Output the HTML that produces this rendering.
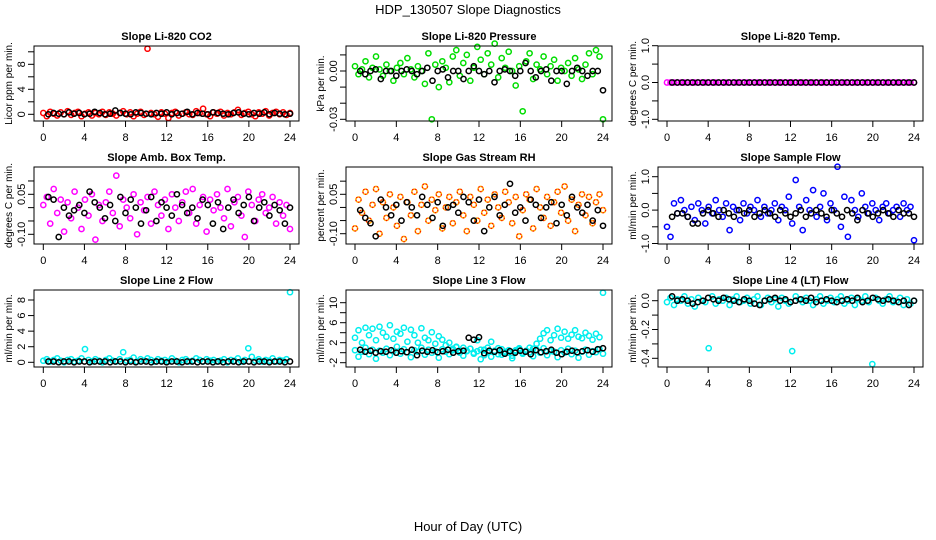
<!DOCTYPE html>
<html><head><meta charset="utf-8">
<style>
html,body{margin:0;padding:0;background:#fff;}
svg{display:block;font-family:"Liberation Sans",sans-serif;}
</style></head>
<body>
<svg id="chart" width="936" height="540" viewBox="0 0 936 540" xmlns="http://www.w3.org/2000/svg">
<text x="468" y="14" text-anchor="middle" font-size="13">HDP_130507  Slope Diagnostics</text>
<text x="468" y="531" text-anchor="middle" font-size="13">Hour of Day (UTC)</text>
</svg>
<script>
const xTicks = [0,4,8,12,16,20,24];
const titles = ["Slope Li-820 CO2","Slope Li-820 Pressure","Slope Li-820 Temp.","Slope Amb. Box Temp.","Slope Gas Stream RH","Slope Sample Flow","Slope Line 2 Flow","Slope Line 3 Flow","Slope Line 4 (LT) Flow"];
const yTitles = ["Licor ppm per min.","kPa per min.","degrees C per min.","degrees C per min.","percent per min.","ml/min per min.","ml/min per min.","ml/min per min.","ml/min per min."];

const co2 = [0.2,-0.3,0.4,0.1,-0.2,0.3,0,0.5,-0.1,0.2,0.4,-0.3,0.1,0.3,-0.2,0.2,0,0.4,-0.1,0.3,0.1,-0.2,0.2,0.5,0,0.3,-0.3,0.1,0.4,-0.1,10.5,0.2,0,-0.4,0.3,0.1,-0.6,0.2,0.4,-0.2,0.1,0.3,0,-0.1,0.5,0.2,0.9,0,-0.3,0.3,0.1,0.4,-0.2,0.2,0,0.3,0.7,-0.1,0.2,0.4,0,-0.3,0.3,0.1,0.5,-0.2,0.2,0.4,0,0.3,-0.1,0.2];
const co2Black = [0,0.2,0.1,0,0.3,0.1,0.2,0,0.1,0.4,0.2,0,0.1,0.6,0.2,0.1,0,0.3,0.2,0.1,0,0.2,0.1,0.3,0,0.2,0.1,0.4,0,0.2,0.1,0,0.3,0.2,0.1,0,0.2,0.3,0.1,0,0.2,0.1,0.3,0,0.2,0.1,0,0.1];
const pressure = [0.003,-0.002,0.001,0.006,-0.004,0.002,0.009,0.001,-0.003,0.004,0.000,-0.006,0.002,0.005,-0.002,0.008,0.001,-0.004,0.003,0.000,-0.008,0.011,-0.030,0.004,-0.010,0.006,0.002,-0.007,0.009,0.013,-0.003,0.005,0.010,-0.006,0.002,0.015,0.007,-0.002,0.011,0.004,0.017,-0.004,0.008,0.002,0.012,0.000,-0.009,0.003,-0.025,0.006,0.011,-0.005,0.004,0.001,0.009,-0.002,0.003,0.007,-0.006,0.002,0.000,0.005,-0.003,0.008,0.001,-0.005,0.004,0.011,-0.002,0.013,0.009,-0.030];
const pressureBlack = [0.000,-0.002,0.000,0.001,-0.005,0.000,0.000,-0.003,0.000,0.001,0.000,-0.002,0.000,0.002,-0.006,0.000,0.001,-0.004,0.000,0.000,-0.005,0.000,0.003,0.000,-0.002,0.000,-0.007,0.000,0.001,0.000,-0.003,0.000,0.005,0.000,-0.004,0.000,0.001,-0.006,0.000,0.000,-0.008,0.000,0.002,0.000,-0.003,0.000,0.000,-0.012];
const licorTemp = [0,0,0,0,0,0,0,0,0,0,0,0,0,0,0,0,0,0,0,0,0,0,0,0,0,0,0,0,0,0,0,0,0,0,0,0,0,0,0,0,0,0,0,0,0,0,0,0,0,0,0,0,0,0,0,0,0,0,0,0,0,0,0,0,0,0,0,0,0,0,0,0];
const licorTempBlack = [0,0,0,0,0,0,0,0,0,0,0,0,0,0,0,0,0,0,0,0,0,0,0,0,0,0,0,0,0,0,0,0,0,0,0,0,0,0,0,0,0,0,0,0,0,0,0,0];
const boxTemp = [0.01,0.04,-0.06,0.07,-0.02,0.03,-0.09,0.02,-0.04,0.06,0.00,-0.08,0.03,-0.03,0.05,-0.12,0.01,-0.05,0.02,0.06,-0.02,0.12,-0.07,0.03,0.00,-0.04,0.05,-0.10,0.02,-0.01,0.04,-0.06,0.06,0.01,-0.03,0.03,-0.08,0.05,0.00,-0.05,0.02,0.06,-0.02,0.07,-0.06,0.01,0.04,-0.09,0.03,-0.01,0.05,0.00,-0.04,0.07,-0.07,0.02,0.04,-0.03,-0.11,0.06,0.01,-0.05,0.03,0.05,-0.02,0.00,0.04,-0.06,0.02,-0.03,0.01,-0.08];
const boxTempBlack = [0.04,0.03,-0.11,0.00,-0.03,-0.01,0.01,-0.02,0.06,0.02,0.00,-0.04,0.01,-0.05,0.04,-0.02,0.03,0.00,-0.06,-0.01,0.04,-0.05,0.02,0.00,-0.03,0.05,0.01,-0.02,0.00,-0.04,0.03,0.01,-0.06,0.02,-0.08,0.00,0.03,-0.02,0.01,0.04,-0.05,0.00,0.02,-0.03,0.01,-0.01,-0.06,0.00];
const gasRH = [-0.08,0.03,-0.02,0.06,-0.05,0.01,0.07,-0.10,0.02,-0.04,0.05,0.00,-0.07,0.04,-0.12,0.02,-0.03,0.06,-0.09,0.01,0.08,-0.05,0.03,-0.01,0.05,-0.08,0.00,0.04,-0.06,0.02,0.06,-0.03,-0.09,0.04,0.01,-0.05,0.07,-0.02,0.03,-0.07,0.05,0.00,-0.04,0.06,0.02,-0.06,0.04,-0.11,-0.01,0.05,0.03,-0.08,0.07,0.00,-0.04,0.04,-0.07,0.02,0.06,-0.02,0.08,-0.05,0.03,-0.09,0.01,0.05,-0.03,0.04,-0.06,0.02,0.05,-0.01];
const gasRHBlack = [-0.01,-0.04,-0.06,-0.11,0.03,0.00,-0.03,0.01,-0.05,0.02,0.00,-0.03,0.04,0.01,-0.04,0.02,-0.07,0.00,0.01,-0.02,0.04,0.02,-0.05,0.03,-0.09,0.00,0.04,-0.03,0.01,0.09,-0.02,0.00,-0.05,0.03,0.01,-0.04,0.00,0.02,-0.06,0.01,-0.03,0.04,0.00,-0.02,0.01,-0.05,-0.01,-0.07];
const sampleFlow = [-0.5,-0.8,0.2,-0.1,0.3,0.0,-0.2,0.1,-0.3,0.2,0.0,-0.4,0.1,-0.1,0.3,0.0,-0.2,0.2,-0.6,0.1,0.0,-0.3,0.2,-0.1,0.1,0.0,0.3,-0.2,0.1,-0.1,0.0,0.2,-0.3,0.1,0.0,0.4,-0.4,0.9,0.1,-0.6,0.3,0.0,0.6,-0.2,0.1,0.5,-0.3,0.2,0.0,1.3,-0.5,0.4,-0.8,0.3,0.0,-0.2,0.5,0.1,-0.1,0.2,0.0,-0.3,0.1,0.2,-0.1,0.0,0.1,-0.2,0.2,0.0,0.1,-0.9];
const sampleFlowBlack = [-0.2,-0.1,-0.1,-0.2,-0.4,-0.4,-0.1,0.0,-0.1,-0.2,0.0,-0.1,-0.2,0.0,-0.1,0.0,-0.2,-0.1,0.0,-0.1,-0.2,0.0,-0.1,-0.2,-0.1,0.0,-0.2,-0.1,0.0,-0.1,-0.2,0.0,-0.1,-0.2,0.0,-0.1,-0.3,0.0,-0.1,-0.2,-0.1,0.0,-0.1,-0.2,0.0,-0.1,-0.1,-0.2];
const line2 = [0.2,0.4,0.1,0.3,0.5,0.2,0.0,0.3,0.4,0.1,0.2,0.5,1.7,0.3,0.1,0.4,0.2,0.0,0.3,0.5,0.2,0.1,0.4,1.3,0.2,0.3,0.6,0.1,0.4,0.2,0.5,0.3,0.1,0.4,0.2,0.3,0.1,0.5,0.2,0.0,0.3,0.4,0.1,0.2,0.5,0.3,0.1,0.4,0.2,0.3,0.1,0.2,0.4,0.0,0.3,0.2,0.5,0.1,0.3,1.8,0.7,0.2,0.4,0.1,0.3,0.2,0.5,0.1,0.3,0.2,0.4,9.0];
const line2Black = [0.1,0.1,0.0,0.1,0.1,0.0,0.1,0.1,0.0,0.1,0.1,0.1,0.0,0.1,0.1,0.0,0.1,0.0,0.1,0.1,0.0,0.1,0.1,0.0,0.1,0.1,0.0,0.1,0.1,0.0,0.1,0.1,0.0,0.1,0.0,0.1,0.1,0.0,0.1,0.1,0.0,0.1,0.1,0.0,0.1,0.1,0.0,0.1];
const line3High = [3.0,4.5,2.0,5.0,3.5,4.8,2.5,5.2,4.0,3.2,5.5,2.8,4.2,3.8,5.0,2.2,4.6,3.5,2.0,4.9,3.0,2.5,4.1,1.8,3.3,2.6,1.5,2.0,0.8,1.2,0.5,1.0,0.3,0.8,0.0,2.5,0.6,-0.5,1.0,2.2,0.2,-0.3,0.7,0.0,0.5,-0.6,0.3,0.9,0.0,0.4,1.0,0.8,1.8,2.8,3.9,4.5,2.5,3.5,4.8,3.0,4.2,2.8,3.6,4.5,3.2,2.9,4.0,3.4,2.6,3.8,3.1,12.0];
const line3Low = [0.5,-0.8,0.2,1.0,-0.3,0.6,-1.2,0.4,0.0,0.8,-0.5,0.3,1.2,-0.2,0.7,0.1,-0.9,0.5,0.2,1.0,-0.4,0.6,0.0,0.3,-1.0,0.7,0.2,-0.3,0.5,1.1,0.0,-0.6,0.4,0.8,-0.2,0.3,-1.3,0.6,0.1,-0.8,0.4,0.9,-0.4,0.2,0.0,-1.1,0.5,0.7,-0.2,0.3,0.1,-0.7,0.6,0.0,0.9,-0.5,0.3,0.2,-0.9,0.5,0.0,0.8,-0.3,0.4,-1.0,0.2,0.6,-0.4,0.3,0.1,0.7,-0.2];
const line3Black = [0.6,0.2,0.4,0.0,0.3,0.2,0.5,0.0,0.3,0.1,0.6,-0.5,0.4,0.2,0.5,0.1,0.3,0.6,0.0,0.3,0.4,3.0,2.6,3.1,-0.1,0.4,0.2,0.5,-0.2,0.3,0.0,0.4,0.2,-0.3,0.5,0.1,0.3,0.6,0.0,-0.3,0.2,0.4,0.1,0.3,0.5,0.2,0.7,0.9];
const line4 = [-0.01,0.02,-0.03,0.01,0.00,0.03,-0.02,0.01,-0.04,0.02,0.00,-0.01,-0.33,0.03,-0.02,0.01,0.00,0.02,-0.03,0.01,0.03,-0.01,0.00,0.02,-0.02,0.01,0.03,-0.03,0.00,0.02,-0.01,0.01,-0.04,0.02,0.00,-0.02,-0.35,0.03,0.01,-0.01,0.02,0.00,-0.03,0.01,0.03,-0.02,0.00,0.02,-0.01,0.01,0.03,-0.02,0.00,0.02,-0.03,0.01,0.00,0.03,-0.01,-0.44,0.02,0.00,-0.02,0.01,0.03,-0.01,0.00,0.02,-0.03,0.01,-0.02,0.00];
const line4Black = [0.03,0.00,0.01,0.00,-0.02,-0.01,0.00,0.02,0.01,0.00,0.02,0.01,0.00,-0.01,0.01,0.00,-0.02,-0.03,0.00,0.01,0.02,0.00,0.01,-0.01,0.00,0.01,0.00,0.02,-0.01,0.00,0.01,0.00,-0.01,0.00,0.01,0.00,0.02,-0.01,0.00,0.02,0.01,0.00,0.01,0.00,-0.01,0.00,-0.03,0.00];

const yTickVals = [[0,2,4,6,8,10],[-0.03,-0.02,-0.01,0,0.01],[-1,-0.5,0,0.5,1],[-0.10,-0.05,0,0.05,0.10],[-0.10,-0.05,0,0.05,0.10],[-1,-0.5,0,0.5,1],[0,2,4,6,8],[-2,0,2,4,6,8,10],[-0.4,-0.3,-0.2,-0.1,0]];
const yTickLabels = [["0","4","8"],["-0.03","0.00"],["-1.0","0.0","1.0"],["-0.10","0.05"],["-0.10","0.05"],["-1.0","0.0","1.0"],["0","2","4","6","8"],["-2","2","6","10"],["-0.4","-0.2","0.0"]];

const NS = "http://www.w3.org/2000/svg";
const svg = document.getElementById('chart');
function mk(tag, attrs, parent){const e=document.createElementNS(NS,tag);for(const k in attrs)e.setAttribute(k,attrs[k]);(parent||svg).appendChild(e);return e;}

// layout: [boxL, boxR, boxT, boxB, xPx0, xPx24, yVal1, yPx1, yVal2, yPx2]
const layout = [
 [34,299,46,121,43.3,290, 0,114.3, 8,64.3],
 [346,612,46,121,355,603, 0,71, -0.03,119.3],
 [658,923,46,121,667,914, 1,45.7, -1,119.3],
 [34,299,167,244,43.3,290, 0.05,194.3, -0.10,234.3],
 [346,612,167,244,355,603, 0.05,194.3, -0.10,233.7],
 [658,923,167,244,667,914, 1,176.7, -1,243.5],
 [34,299,290,367,43.3,290, 0,362.3, 8,300],
 [346,612,290,367,355,603, 10,302.7, -2,362.7],
 [658,923,290,367,667,914, 0,300.7, -0.4,358.3]
];
const colored = [[co2],[pressure],[licorTemp],[boxTemp],[gasRH],[sampleFlow],[line2],[line3High,line3Low],[line4]];
const blacks = [co2Black,pressureBlack,licorTempBlack,boxTempBlack,gasRHBlack,sampleFlowBlack,line2Black,line3Black,line4Black];
const colors = ["#ff0000","#00dd00","#ff00ff","#ff00ff","#ffa500","#0000ff","#00eeee","#00eeee","#00eeee"];

layout.forEach((L,p)=>{
  const [bl,br,bt,bb,x0,x24,v1,p1,v2,p2]=L;
  const xs = h => x0 + (x24-x0)*h/24;
  const ys = v => p1 + (v-v1)*(p2-p1)/(v2-v1);
  const g = mk('g',{});
  
  
  const t = mk('text',{x:(bl+br)/2,y:bt-6,'text-anchor':'middle','font-size':11,'font-weight':'bold'},g);
  t.textContent = titles[p];
  
  
  // points
  const pts = mk('g',{},g);
  
  
  colored[p].forEach(arr=>{
    arr.forEach((v,i)=>{
      const h = i*24/(arr.length-1);
      const c = mk('circle',{cx:xs(h).toFixed(1),cy:ys(v).toFixed(1),r:2.6,fill:'none',stroke:colors[p],'stroke-width':1.5},pts);
      
      
      if(p===4){
        const c2 = mk('circle',{cx:xs(h).toFixed(1),cy:ys(v).toFixed(1),r:2.6,fill:'none',stroke:'#ff0000','stroke-width':1.2,'stroke-dasharray':'1.2 2'},pts);
        
        
      }
    });
  });
  const bk = blacks[p];
  bk.forEach((v,i)=>{
    const h = 0.5 + i*23.5/(bk.length-1);
    const c = mk('circle',{cx:xs(h).toFixed(1),cy:ys(v).toFixed(1),r:2.6,fill:'none',stroke:'#000','stroke-width':1.5},pts);
    
    
  });
  // clip-free box on top
  const box = mk('rect',{x:bl,y:bt,width:br-bl,height:bb-bt,fill:'none',stroke:'#000','stroke-width':1},g);
  
  
  // x axis
  const xa = mk('g',{},g);
  
  
  mk('line',{x1:xs(0),x2:xs(24),y1:bb,y2:bb,stroke:'#000'},xa);
  xTicks.forEach(h=>{
    mk('line',{x1:xs(h),x2:xs(h),y1:bb,y2:bb+6,stroke:'#000'},xa);
    const tl = mk('text',{x:xs(h),y:bb+20,'text-anchor':'middle','font-size':11},xa);
    tl.textContent = h;
    
    
  });
  // y axis
  const ya = mk('g',{},g);
  
  
  const tv = yTickVals[p];
  mk('line',{x1:bl,x2:bl,y1:ys(tv[0]),y2:ys(tv[tv.length-1]),stroke:'#000'},ya);
  tv.forEach(v=>{ mk('line',{x1:bl-6,x2:bl,y1:ys(v),y2:ys(v),stroke:'#000'},ya); });
  yTickLabels[p].forEach(s=>{
    const yy = ys(parseFloat(s));
    const tl = mk('text',{x:bl-9,y:yy,'text-anchor':'middle','font-size':11,transform:`rotate(-90 ${bl-9} ${yy})`},ya);
    tl.textContent = s;
    
    
  });
  const yt = mk('text',{x:bl-22,y:(bt+bb)/2,'text-anchor':'middle','font-size':10,transform:`rotate(-90 ${bl-22} ${(bt+bb)/2})`},ya);
  yt.textContent = yTitles[p];
  
  
});
</script>
</body></html>
